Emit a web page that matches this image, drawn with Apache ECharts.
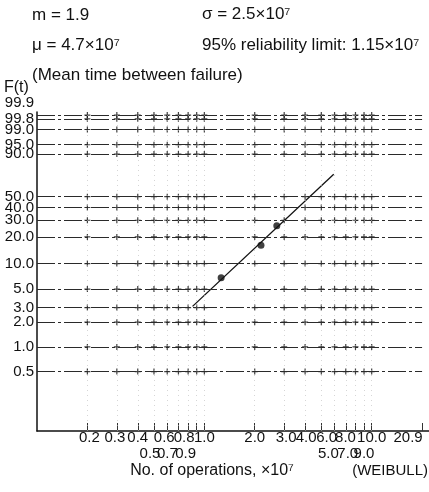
<!DOCTYPE html>
<html><head><meta charset="utf-8">
<script src="https://cdn.jsdelivr.net/npm/echarts@6/dist/echarts.min.js"></script>
<style>html,body{margin:0;padding:0;background:#fff}#c{width:429px;height:492px}</style>
</head><body><div id="c"></div><script>
// ---- data ----
const pointOps = [1.26, 2.18, 2.71];          // x 10^7 operations
const pointF = [6.8, 16.2, 26.4];             // cumulative failure F(t), %
const fitOps = [0.85, 5.93];
const fitF = [3.1, 72.8];
const yTickF = [0.5, 1, 2, 3, 5, 10, 20, 30, 40, 50, 90, 95, 99, 99.8, 99.9];
const yTickText = ['0.5','1.0','2.0','3.0','5.0','10.0','20.0','30.0','40.0','50.0','90.0','95.0','99.0','99.8','99.9'];
const xGridVals = [0.2,0.3,0.4,0.5,0.6,0.7,0.8,0.9,1,2,3,4,5,6,7,8,9,10];
const xTickVals = [0.2,0.3,0.4,0.5,0.6,0.7,0.8,0.9,1,2,3,4,5,6,7,8,9,10,20];
const xRow1Vals = [0.2,0.3,0.4,0.6,0.8,1,2,3,4,6,8,10,20];
const xRow1Text = ['0.2','0.3','0.4','0.6','0.8','1.0','2.0','3.0','4.0','6.0','8.0','10.0','20.9'];
const xRow2Vals = [0.5,0.7,0.9,5,7,9];
const xRow2Text = ['0.5','0.7','0.9','5.0','7.0','9.0'];
// ---- layout (label nudges, px) ----
const xRow1Shift = [2,-2,0,-3,-4,0,0,2,1,-8,-10,0,-14];
const xRow2Shift = [-4,-11,-11,7,2,0];

const FONT = '"Liberation Sans", Arial, Helvetica, sans-serif';
function weib(F){ return Math.log(-Math.log(1 - F/100)); }

const crosses = [];
yTickF.forEach(f => xGridVals.forEach(x => crosses.push([x, weib(f)])));
const gridLines = [];
yTickF.forEach(f => gridLines.push([
  { coord: [0.1, weib(f)], lineStyle: { color: '#2a2a2a', width: 1, type: [18, 3, 3, 3] } },
  { coord: [20, weib(f)] }
]));
xGridVals.forEach(x => gridLines.push({ xAxis: x, lineStyle: { color: '#bbb', width: 1, type: [1, 4], opacity: 0.6 } }));

const chart = echarts.init(document.getElementById('c'), null, { renderer: 'canvas' });

const headerText = [
  { x: 32, y: 15, t: 'm = 1.9' },
  { x: 202, y: 14, t: 'σ = 2.5×10⁷' },
  { x: 32, y: 45, t: 'μ = 4.7×10⁷' },
  { x: 202, y: 45, t: '95% reliability limit: 1.15×10⁷' },
  { x: 32, y: 75, t: '(Mean time between failure)' }
];

chart.setOption({
  animation: false,
  backgroundColor: '#fff',
  grid: { left: 37, right: 0, top: 112, bottom: 61 },
  xAxis: {
    type: 'log', logBase: 10, min: 0.1, max: 22, position: 'bottom',
    splitLine: { show: false },
    axisLine: { show: true, onZero: false, lineStyle: { color: '#111', width: 1.5 } },
    axisTick: { show: true, inside: true, length: 8, customValues: xTickVals, lineStyle: { color: '#333', width: 1 } },
    axisLabel: { show: false }
  },
  yAxis: {
    type: 'value', min: -6.97, max: 2.02,
    axisLine: { show: true, onZero: false, lineStyle: { color: '#111', width: 1.5 } },
    axisTick: { show: false }, splitLine: { show: false },
    axisLabel: {
      show: true, margin: 3, customValues: yTickF.map(weib), showMinLabel: true, showMaxLabel: true, hideOverlap: false,
      fontSize: 15, fontFamily: FONT, color: '#111',
      rich: { n: { fontSize: 15, fontFamily: FONT, color: '#111' },
              up: { fontSize: 15, fontFamily: FONT, color: '#111', padding: [0, 0, 25, 0] } },
      formatter: v => {
        const i = yTickF.findIndex(f => Math.abs(weib(f) - v) < 1e-6);
        if (i < 0) return '';
        return (yTickF[i] === 99.9 ? '{up|' : '{n|') + yTickText[i] + '}';
      }
    }
  },
  series: [
    {
      type: 'scatter', silent: true, z: 1,
      symbol: 'path://M0,4L10,4L10,6L0,6Z M4,0L6,0L6,10L4,10Z', symbolSize: 6,
      itemStyle: { color: '#111' },
      data: crosses,
      markLine: { silent: true, symbol: 'none', label: { show: false }, animation: false, data: gridLines }
    },
    {
      type: 'line', z: 3, symbol: 'none', silent: true,
      lineStyle: { color: '#111', width: 1.3 },
      data: fitOps.map((x, i) => [x, weib(fitF[i])])
    },
    {
      type: 'scatter', z: 4, symbol: 'circle', symbolSize: 7,
      itemStyle: { color: '#111' },
      data: pointOps.map((x, i) => [x, weib(pointF[i])])
    }
  ]
});

// x tick labels placed through the axis scale (two staggered rows)
const graphics = [];
function addRow(vals, texts, shifts, y){
  vals.forEach((v, i) => {
    const px = chart.convertToPixel({ xAxisIndex: 0 }, v) + shifts[i];
    graphics.push({ type: 'text', x: px, y: y, silent: true,
      style: { text: texts[i], font: '15px ' + FONT, fill: '#111', align: 'center', verticalAlign: 'middle' } });
  });
}
addRow(xRow1Vals, xRow1Text, xRow1Shift, 438);
addRow(xRow2Vals, xRow2Text, xRow2Shift, 454);
headerText.forEach(h => graphics.push({ type: 'text', x: h.x, y: h.y, silent: true,
  style: { text: h.t, font: '17px ' + FONT, fill: '#111', verticalAlign: 'middle' } }));
graphics.push({ type: 'text', x: 4, y: 88, style: { text: 'F(t)', font: '16px ' + FONT, fill: '#111', verticalAlign: 'middle' } });
graphics.push({ type: 'text', x: 212, y: 471, style: { text: 'No. of operations, ×10⁷', font: '16px ' + FONT, fill: '#111', align: 'center', verticalAlign: 'middle' } });
graphics.push({ type: 'text', x: 428, y: 471, style: { text: '(WEIBULL)', font: '15px ' + FONT, fill: '#111', align: 'right', verticalAlign: 'middle' } });
chart.setOption({ graphic: graphics });
</script></body></html>
